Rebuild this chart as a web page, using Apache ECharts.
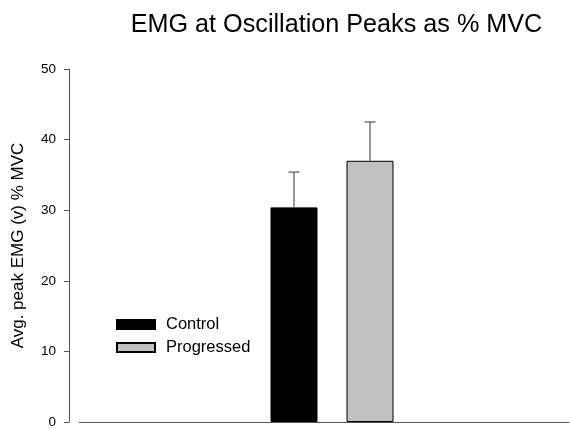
<!DOCTYPE html>
<html>
<head>
<meta charset="utf-8">
<script src="https://cdn.jsdelivr.net/npm/echarts@6/dist/echarts.min.js"></script>
<style>
  html, body { margin: 0; padding: 0; background: #fff; overflow: hidden; }
  #chart { width: 570px; height: 429px; }
</style>
</head>
<body>
<div id="chart"></div>
<script>
// Group labels and mean peak EMG (% MVC) with standard deviations
const groups = ['Control', 'Progressed'];
const means = [30.4, 37.0];
const errors = [5.0, 5.5];
const yTicks = [0, 10, 20, 30, 40, 50];
const barColors = ['#000000', '#c0c0c0'];

const BAR_W = 47;
const BAR_GAP = 29;
const FONT = 'Liberation Sans, Arial, sans-serif';
const AXIS_GREY = '#555';

const chart = echarts.init(document.getElementById('chart'), null, { renderer: 'canvas' });

// Bars live on a second, hidden grid so the group sits right of the frame centre
const barSeries = groups.map((g, i) => ({
  name: g,
  type: 'bar',
  xAxisIndex: 1,
  yAxisIndex: 1,
  data: [means[i]],
  barWidth: BAR_W,
  barGap: (BAR_GAP / BAR_W * 100) + '%',
  itemStyle: { color: barColors[i], borderColor: '#000', borderWidth: 1 },
  z: 2
}));

// Upper standard-deviation whiskers drawn above each bar
const errorSeries = {
  type: 'custom',
  name: 'error',
  xAxisIndex: 1,
  yAxisIndex: 1,
  data: groups.map((g, i) => [0, means[i], means[i] + errors[i], i]),
  renderItem: function (params, api) {
    const idx = api.value(3);
    const offset = (idx - (groups.length - 1) / 2) * (BAR_W + BAR_GAP);
    const base = api.coord([0, api.value(1)]);
    const top = api.coord([0, api.value(2)]);
    const x = base[0] + offset;
    const half = 5.5;
    const style = { stroke: AXIS_GREY, lineWidth: 1.2 };
    return {
      type: 'group',
      children: [
        { type: 'line', shape: { x1: x, y1: base[1], x2: x, y2: top[1] }, style: style },
        { type: 'line', shape: { x1: x - half, y1: top[1], x2: x + half, y2: top[1] }, style: style }
      ]
    };
  },
  z: 3,
  silent: true
};

const valueAxisRange = { min: yTicks[0], max: yTicks[yTicks.length - 1], interval: 10 };

chart.setOption({
  animation: false,
  backgroundColor: '#fff',
  title: {
    text: 'EMG at Oscillation Peaks as % MVC',
    left: 331.5,
    top: 8,
    textAlign: 'center',
    textStyle: { fontFamily: FONT, fontSize: 25.2, fontWeight: 'normal', color: '#000' }
  },
  legend: {
    data: groups,
    orient: 'vertical',
    left: 111,
    top: 311,
    itemWidth: 38,
    itemHeight: 9,
    itemGap: 6,
    icon: 'rect',
    textStyle: { fontFamily: FONT, fontSize: 16.5, lineHeight: 16, color: '#000', padding: [0, 0, 0, 6] }
  },
  grid: [
    { left: 79, right: 1, top: 69, bottom: 7, containLabel: false },
    { left: 94, right: 0, top: 69, bottom: 7, containLabel: false }
  ],
  xAxis: [
    {
      type: 'category',
      gridIndex: 0,
      data: ['EMG'],
      axisLine: { show: true, lineStyle: { color: AXIS_GREY, width: 1 } },
      axisTick: { show: false },
      axisLabel: { show: false },
      splitLine: { show: false }
    },
    {
      type: 'category',
      gridIndex: 1,
      data: ['EMG'],
      show: false
    }
  ],
  yAxis: [
    Object.assign({
      type: 'value',
      gridIndex: 0,
      offset: 10,
      name: 'Avg. peak EMG (v) % MVC',
      nameLocation: 'middle',
      nameRotate: 90,
      nameGap: 42,
      nameTextStyle: { fontFamily: FONT, fontSize: 17, color: '#000' },
      axisLine: { show: true, lineStyle: { color: AXIS_GREY, width: 1 } },
      axisTick: { show: true, length: 5, lineStyle: { color: AXIS_GREY } },
      axisLabel: { margin: 13, fontFamily: FONT, fontSize: 13.5, color: '#000' },
      splitLine: { show: false }
    }, valueAxisRange),
    Object.assign({
      type: 'value',
      gridIndex: 1,
      show: false,
      splitLine: { show: false }
    }, valueAxisRange)
  ],
  series: [...barSeries, errorSeries]
});
</script>
</body>
</html>
